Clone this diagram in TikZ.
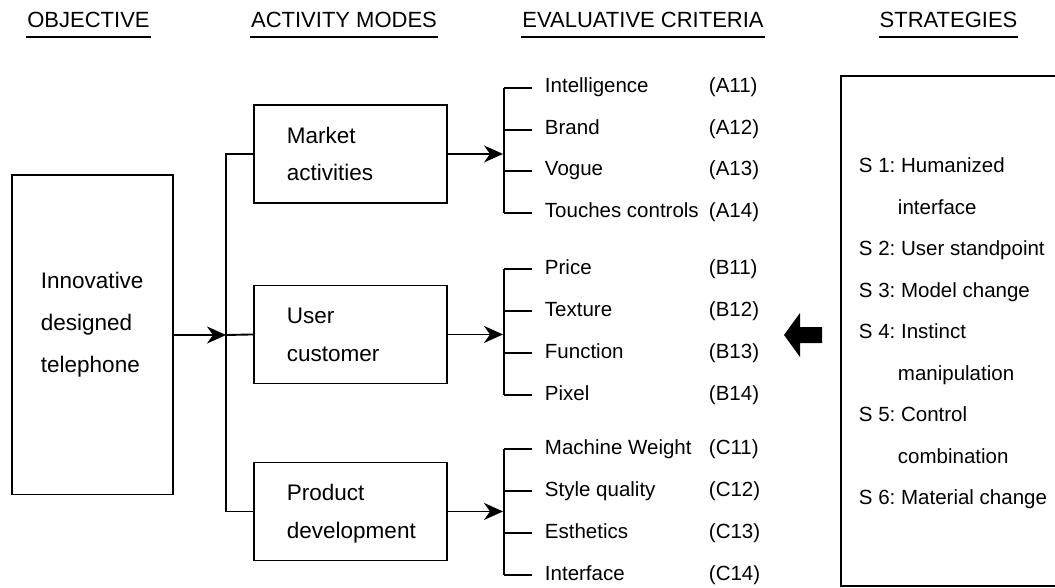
\documentclass[tikz,border=0pt]{standalone}
\usepackage{fontspec}
\setmainfont{Liberation Sans}
\usetikzlibrary{arrows.meta,calc}
\begin{document}
\frenchspacing
\begin{tikzpicture}[x=1pt,y=-1pt,line width=1.9pt,
  tip/.style={-{Stealth[length=19pt,width=17pt,inset=6pt]}},
  hdr/.style={inner sep=0pt,anchor=base,font=\fontsize{22}{26}\selectfont},
  ul/.style={line width=2pt},
  box/.style={draw,inner ysep=0pt,align=left,anchor=north west},
  modebox/.style={box,inner xsep=33pt,text width=127pt,text height=38.5pt,text depth=59.5pt,
    font=\fontsize{22.5}{37.5}\selectfont},
  item/.style={inner sep=0pt,anchor=west,text height=14.5pt,text depth=4.5pt,font=\fontsize{20.5}{24}\selectfont}]
\useasboundingbox (0,0) rectangle (1055,588);

% headers
\node[hdr] (h1) at (88.5,28) {OBJECTIVE};
\node[hdr] (h2) at (344,28) {ACTIVITY MODES};
\node[hdr] (h3) at (643,28) {EVALUATIVE CRITERIA};
\node[hdr] (h4) at (948.5,28) {STRATEGIES};
\foreach \h in {h1,h2,h3,h4}
  \draw[ul] ([yshift=-9pt]\h.base west) -- ([yshift=-9pt]\h.base east);

% objective
\node[box,inner xsep=29pt,text width=103pt,text height=113.5pt,text depth=205.5pt,
  font=\fontsize{22.5}{41.7}\selectfont] (obj) at (11,174.5) {Innovative\\designed\\telephone};

% activity modes
\node[modebox] (m) at (253,104) {Market\\activities};
\node[modebox] (u) at (253,284.5) {User\\customer};
\node[modebox] (p) at (253,461.5) {Product\\development};

\coordinate (j) at (226,335);
\draw[tip] (obj.east |- j) -- (j);
\draw (m.west) -- (m.west -| j) -- (p.west -| j) -- (p.west);
\draw (j) -- (u.west);

% criteria
\foreach \n/\y/\t/\c in {a1/88/Intelligence/(A11), a2/130/Brand/(A12), a3/171/Vogue/(A13), a4/213/Touches controls/(A14),
  b1/269/Price/(B11), b2/311/Texture/(B12), b3/353/Function/(B13), b4/395/Pixel/(B14),
  c1/449/Machine Weight/(C11), c2/491/Style quality/(C12), c3/533/Esthetics/(C13), c4/575/Interface/(C14)}{
  \node[item] (\n) at (544,\y) {\t};
  \node[item] (\n c) at (708,\y) {\c};
  \draw ([xshift=-12pt]\n.west) -- ([xshift=-40pt]\n.west);
}
\foreach \g in {a,b,c}{
  \coordinate (\g top) at ([xshift=-40pt]\g1.west);
  \coordinate (\g bot) at ([xshift=-40pt]\g4.west);
  \draw (\g top) -- (\g bot);
}
\draw[tip] (m.east) -- ([xshift=-1pt]m.east -| atop);
\draw[tip] (u.east) -- ([xshift=-1pt]u.east -| btop);
\draw[tip] (p.east) -- ([xshift=-1pt]p.east -| ctop);

% strategies
\node[draw,anchor=north west,minimum width=260pt,minimum height=510pt,inner sep=0pt] (s) at (840,75) {};
\node[anchor=north west,inner sep=0pt,align=left,font=\fontsize{20.5}{41.5}\selectfont] (st) at (858,157)
 {S 1: Humanized\\
  \hspace*{39pt}interface\\
  S 2: User standpoint\\
  S 3: Model change\\
  S 4: Instinct\\
  \hspace*{39pt}manipulation\\
  S 5: Control\\
  \hspace*{39pt}combination\\
  S 6: Material change};

% big arrow
\fill (784,335) -- (800,313) -- (800,327) -- (822,327) -- (822,343) -- (800,343) -- (800,357) -- cycle;
\end{tikzpicture}
\end{document}
